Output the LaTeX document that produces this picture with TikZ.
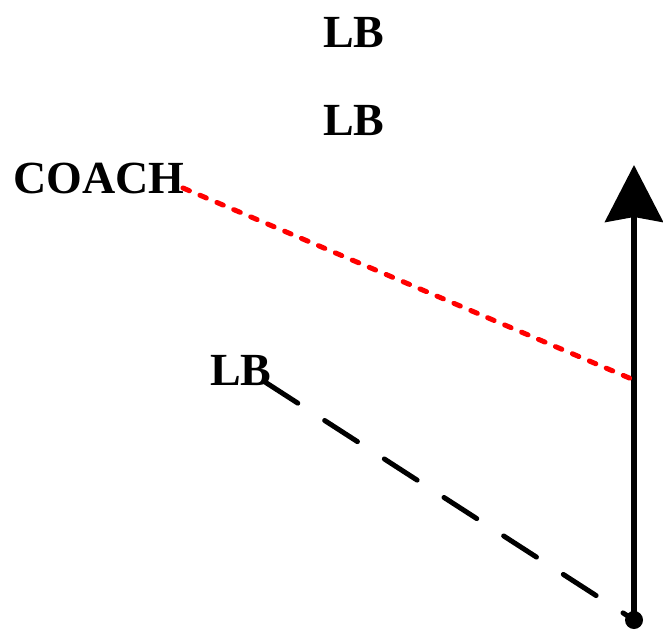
\documentclass[tikz,border=0pt]{standalone}
\usepackage{fontspec}
\setmainfont{Liberation Serif}
\usetikzlibrary{arrows.meta,positioning}

\begin{document}
\begin{tikzpicture}[
  x=1pt,
  y=-1pt,
  line join=round,
  every node/.style={font=\fontsize{46}{50}\selectfont\bfseries, inner sep=0pt, anchor=base west}
]

% ---------- node styles ----------
\tikzset{
  playerNode/.style={text=black},
  coachNode/.style={text=black},
  runPath/.style={draw=black, line width=5.5pt, -{Stealth[length=57pt, width=58pt, inset=5pt]}},
  dropPath/.style={draw=black, line width=5pt, line cap=round, dash pattern=on 39pt off 32pt},
  readPath/.style={draw=red, line width=5pt, line cap=round, dash pattern=on 7pt off 11.4pt}
}

\useasboundingbox (0,0) rectangle (663,632);

% ---------- players ----------
\node[playerNode] (lbTop) at (323,47) {LB};
\node[playerNode] (lbMid) at (323,135) {LB};
\node[coachNode] (coach) at (13,193) {COACH};
\node[playerNode] (lbLow) at (210,385) {LB};

% ---------- route ----------
\coordinate (ball) at (634,620);
\coordinate (runEnd) at (634,165);
\coordinate (readEnd) at (634,380);
\coordinate (coachEnd) at (183,188);
\coordinate (lbLowEnd) at (265,382);

\draw[runPath] (ball) -- (runEnd);
\fill (ball) circle (9);

\draw[readPath] (coachEnd) -- (readEnd);
\draw[dropPath] (lbLowEnd) -- (ball);

\end{tikzpicture}
\end{document}
